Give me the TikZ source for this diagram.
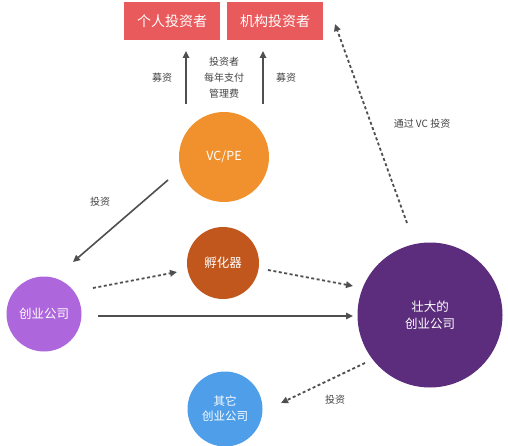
\documentclass[tikz,border=0pt]{standalone}
\usepackage{fontspec}
\setmainfont{Noto Sans CJK SC}
\usetikzlibrary{arrows.meta}
\definecolor{boxred}{HTML}{E95A5C}
\definecolor{vcorange}{HTML}{F0912D}
\definecolor{incub}{HTML}{C1571D}
\definecolor{startp}{HTML}{AE66DD}
\definecolor{bigp}{HTML}{5C2D7C}
\definecolor{otherb}{HTML}{4E9EEA}
\definecolor{arrg}{HTML}{4F4F4F}
\definecolor{lblg}{HTML}{444444}
\begin{document}
\begin{tikzpicture}[x=1pt,y=-1pt,
  invbox/.style={fill=boxred,text=white,minimum width=96pt,minimum height=38pt,inner sep=0pt,font=\fontsize{14}{16}\selectfont},
  circ/.style={circle,inner sep=0pt,text=white,align=center,font=\fontsize{12.5}{17}\selectfont},
  lbl/.style={text=lblg,align=center,font=\fontsize{10}{16}\selectfont},
  arr/.style={draw=arrg,line width=1.6pt,-{Triangle[length=7pt,width=6.5pt]}},
  darr/.style={arr,line width=1.8pt,dash pattern=on 3pt off 2.5pt}]
\useasboundingbox (0,0) rectangle (508,446);
\fill[white] (0,0) rectangle (508,446);
\node[invbox] (ind) at (172,21) {个人投资者};
\node[invbox] (ins) at (275,21) {机构投资者};
\node[circ,fill=vcorange,minimum size=90pt] (vc) at (224,157) {VC/PE};
\node[circ,fill=startp,minimum size=75pt] (st) at (44,314) {创业公司};
\node[circ,fill=incub,minimum size=72pt] (inc) at (223,263) {孵化器};
\node[circ,fill=bigp,minimum size=145pt] (big) at (430,315) {壮大的\\创业公司};
\node[circ,fill=otherb,minimum size=75pt,font=\fontsize{11.5}{15}\selectfont] (oth) at (225,409) {其它\\创业公司};
\coordinate (a1s) at (186,104); \coordinate (a1e) at (186,51);
\coordinate (a2s) at (263,104); \coordinate (a2e) at (263,51);
\draw[arr] (a1s) -- (a1e);
\draw[arr] (a2s) -- (a2e);
\node[lbl] (l1) at (162,78) {募资};
\node[lbl] (l2) at (224,78) {投资者\\每年支付\\管理费};
\node[lbl] (l3) at (286,78) {募资};
\coordinate (b1s) at (168,180); \coordinate (b1e) at (73,262);
\draw[arr] (b1s) -- (b1e);
\node[lbl] (l4) at (100,202) {投资};
\coordinate (c1s) at (93,288); \coordinate (c1e) at (177,272);
\draw[darr] (c1s) -- (c1e);
\coordinate (c2s) at (268,270); \coordinate (c2e) at (353,286);
\draw[darr] (c2s) -- (c2e);
\coordinate (d1s) at (98,316); \coordinate (d1e) at (353,316);
\draw[arr] (d1s) -- (d1e);
\coordinate (e1s) at (407,223); \coordinate (e1e) at (335,24);
\draw[darr] (e1s) -- (e1e);
\node[lbl] (l5) at (422,124) {通过 VC 投资};
\coordinate (f1s) at (365,363); \coordinate (f1e) at (281,403);
\draw[darr] (f1s) -- (f1e);
\node[lbl] (l6) at (335,400) {投资};
\end{tikzpicture}
\end{document}
